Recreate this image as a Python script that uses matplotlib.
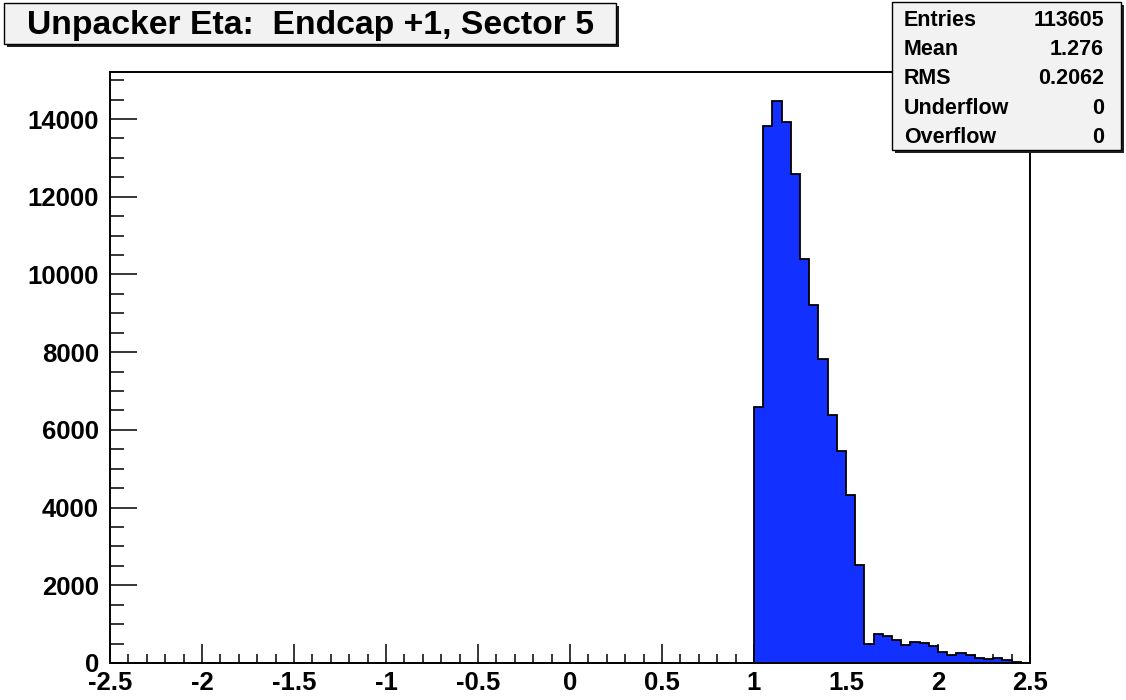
import numpy as np
import matplotlib.pyplot as plt
from matplotlib.patches import Rectangle
from matplotlib.ticker import MultipleLocator

plt.rcParams['font.family'] = ['Liberation Sans', 'DejaVu Sans']
plt.rcParams['font.weight'] = 'bold'

# eta histogram, 0.05 wide bins, only non-empty range stored (1.0 -> 2.5)
eta_lo, eta_hi, bin_w = 1.0, 2.5, 0.05
counts = [6590, 13830, 14473, 13925, 12587, 10407, 9205, 7833, 6392, 5448,
          4316, 2531, 498, 755, 686, 583, 455, 549, 506, 429,
          292, 206, 249, 206, 129, 103, 120, 86, 26, 0]

title = "Unpacker Eta:  Endcap +1, Sector 5"
stat_names = ["Entries", "Mean", "RMS", "Underflow", "Overflow"]
stat_values = ["113605", "1.276", "0.2062", "0", "0"]

W, H = 1126, 700
fig = plt.figure(figsize=(W / 100, H / 100), dpi=100)
fig.patch.set_facecolor('white')

# axes frame in pixel terms
x0, x1, y_top, y_bot = 110, 1030, 72, 663
ax = fig.add_axes([x0 / W, (H - y_bot) / H, (x1 - x0) / W, (y_bot - y_top) / H])

edges = np.linspace(eta_lo, eta_hi, len(counts) + 1)
ax.stairs(counts, edges, fill=True, facecolor='#1230ff', edgecolor='none', zorder=2)
ax.stairs(counts, edges, baseline=0, color='black', linewidth=1.3, zorder=3)

ax.set_xlim(-2.5, 2.5)
ax.set_ylim(0, 15210)

ax.xaxis.set_major_locator(MultipleLocator(0.5))
ax.xaxis.set_minor_locator(MultipleLocator(0.1))
ax.yaxis.set_major_locator(MultipleLocator(2000))
ax.yaxis.set_minor_locator(MultipleLocator(500))
ax.xaxis.set_major_formatter(plt.FuncFormatter(lambda v, p: f"{v:g}"))
ax.yaxis.set_major_formatter(plt.FuncFormatter(lambda v, p: f"{v:.0f}"))

ax.tick_params(axis='both', which='both', direction='in', width=1.1,
               top=False, right=False, labelsize=18.5, color='black')
ax.tick_params(axis='x', which='major', length=13.5, pad=6)
ax.tick_params(axis='x', which='minor', length=6.5)
ax.tick_params(axis='y', which='major', length=19.5, pad=8)
ax.tick_params(axis='y', which='minor', length=10)
for lab in ax.get_xticklabels() + ax.get_yticklabels():
    lab.set_fontweight('bold')
for sp in ax.spines.values():
    sp.set_linewidth(1.4)
    sp.set_color('black')


def px_box(left, top, right, bottom, z):
    # framed grey box with a dark drop shadow, coords in pixels from top-left
    sh = Rectangle(((left + 3) / W, (H - bottom - 3) / H), (right - left) / W,
                   (bottom - top) / H, transform=fig.transFigure,
                   facecolor='#202020', edgecolor='none', zorder=z)
    bx = Rectangle((left / W, (H - bottom) / H), (right - left) / W,
                   (bottom - top) / H, transform=fig.transFigure,
                   facecolor='#f2f2f2', edgecolor='black', linewidth=1.0, zorder=z + 0.1)
    fig.patches.extend([sh, bx])


# title box
px_box(4, 3, 616, 44, 5)
fig.text(311 / W, (H - 34) / H, title, ha='center', va='baseline',
         fontsize=24.3, fontweight='bold', zorder=6)

# statistics box
px_box(892, 2, 1121, 150, 5)
for i, (name, val) in enumerate(zip(stat_names, stat_values)):
    yb = (H - (26 + i * 29.2)) / H
    fig.text(904 / W, yb, name, ha='left', va='baseline', fontsize=15.5,
             fontweight='bold', zorder=6)
    fig.text(1104 / W, yb, val, ha='right', va='baseline', fontsize=15.5,
             fontweight='bold', zorder=6)

fig.savefig('out.png', dpi=100)
